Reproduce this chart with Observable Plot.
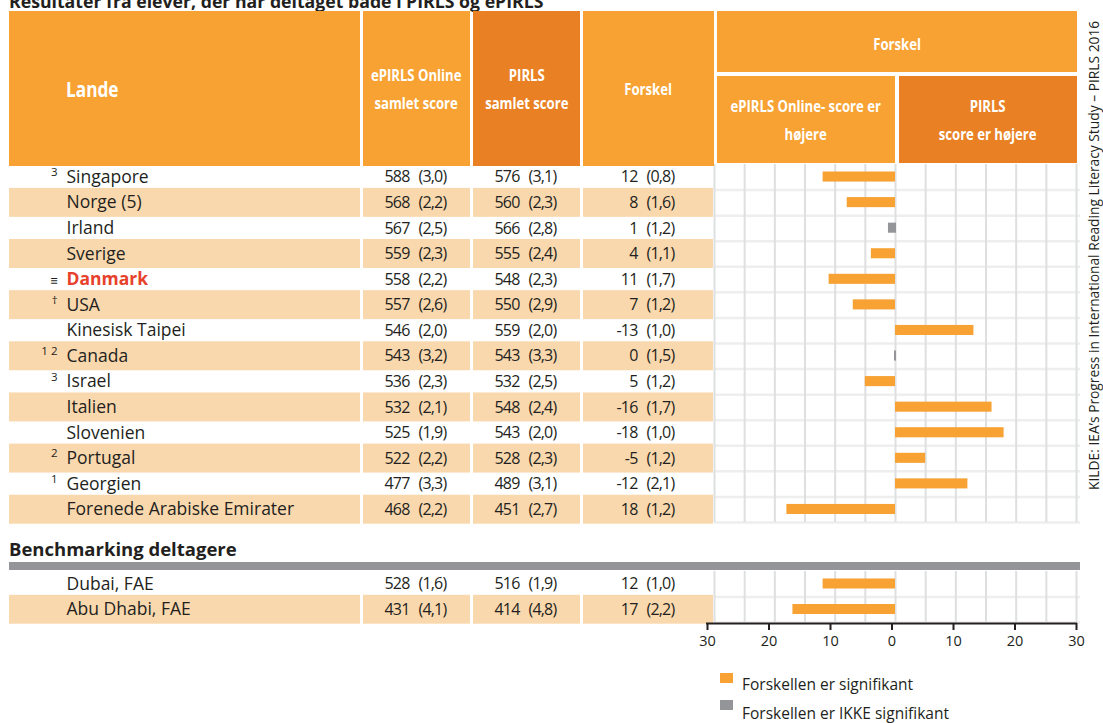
<!DOCTYPE html>
<html lang="da">
<head>
<meta charset="utf-8">
<script src="https://cdn.jsdelivr.net/npm/d3@7"></script>
<script src="https://cdn.jsdelivr.net/npm/@observablehq/plot@0.6"></script>
<style>
html,body{margin:0;padding:0;background:#fff}
body{width:1103px;height:723px;overflow:hidden;position:relative;font-family:"Open Sans",sans-serif;color:#231F20}
.abs{position:absolute;white-space:nowrap}
.hdr{position:absolute;display:flex;align-items:center;justify-content:center;text-align:center;color:#fff;font-family:"Open Sans",sans-serif;font-weight:bold;font-size:16px;line-height:28px;white-space:nowrap}
.sq{display:inline-block;transform:scaleX(0.82)}
.plotbox{position:absolute}
.plotbox svg{overflow:visible;display:block}
.num text{letter-spacing:-0.8px}
.sw{position:absolute;width:13px;height:10px}
</style>
</head>
<body>
<script>
// ---------- data ----------
const countries = ["Singapore","Norge (5)","Irland","Sverige","Danmark","USA","Kinesisk Taipei","Canada","Israel","Italien","Slovenien","Portugal","Georgien","Forenede Arabiske Emirater"];
const footnotes = ["3","","","","≡","†","","1 2","3","","","2","1",""];
const ePirlsScore = [588,568,567,559,558,557,546,543,536,532,525,522,477,468];
const ePirlsSE = [3.0,2.2,2.5,2.3,2.2,2.6,2.0,3.2,2.3,2.1,1.9,2.2,3.3,2.2];
const pirlsScore = [576,560,566,555,548,550,559,543,532,548,543,528,489,451];
const pirlsSE = [3.1,2.3,2.8,2.4,2.3,2.9,2.0,3.3,2.5,2.4,2.0,2.3,3.1,2.7];
const difference = [12,8,1,4,11,7,-13,0,5,-16,-18,-5,-12,18];
const differenceSE = [0.8,1.6,1.2,1.1,1.7,1.2,1.0,1.5,1.2,1.7,1.0,1.2,2.1,1.2];
const significant = [true,true,false,true,true,true,true,false,true,true,true,true,true,true];

const benchCountries = ["Dubai, FAE","Abu Dhabi, FAE"];
const benchFootnotes = ["",""];
const benchEPirlsScore = [528,431];
const benchEPirlsSE = [1.6,4.1];
const benchPirlsScore = [516,414];
const benchPirlsSE = [1.9,4.8];
const benchDifference = [12,17];
const benchDifferenceSE = [1.0,2.2];
const benchSignificant = [true,true];

const highlight = "Danmark";
const gridTicks = [-30,-25,-20,-15,-10,-5,0,5,10,15,20,25,30];
const axisTicks = [-30,-20,-10,0,10,20,30];
const legendLabels = ["Forskellen er signifikant","Forskellen er IKKE signifikant"];

const titleText = "Resultater fra elever, der har deltaget både i PIRLS og ePIRLS";
const benchTitle = "Benchmarking deltagere";
const sourceText = "KILDE:  IEA’s Progress in International Reading Literacy Study – PIRLS 2016";

// ---------- style ----------
const ORANGE = "#F7A233", DARK = "#E98124", TAN = "#FAD8AE", GRAY = "#939598", INK = "#231F20", RED = "#E8412B";
const SANS = "Open Sans, sans-serif";
const fmt = v => v.toFixed(1).replace(".", ",");

function table(names, notes, e, eSE, p, pSE, d, dSE, sig) {
  return names.map((name, i) => ({name, note: notes[i], e: e[i], eSE: eSE[i], p: p[i], pSE: pSE[i],
    d: d[i], dSE: dSE[i], sig: sig[i] ? legendLabels[0] : legendLabels[1]}));
}
const mainRows = table(countries, footnotes, ePirlsScore, ePirlsSE, pirlsScore, pirlsSE, difference, differenceSE, significant);
const benchRows = table(benchCountries, benchFootnotes, benchEPirlsScore, benchEPirlsSE, benchPirlsScore, benchPirlsSE, benchDifference, benchDifferenceSE, benchSignificant);

function place(node, left, top, cls) {
  const div = document.createElement("div");
  div.className = "plotbox" + (cls ? " " + cls : "");
  div.style.left = left + "px";
  div.style.top = top + "px";
  div.appendChild(node);
  document.body.appendChild(div);
}
function html(cls, left, top, w, h, inner, extra) {
  const div = document.createElement("div");
  div.className = cls;
  Object.assign(div.style, {left: left + "px", top: top + "px"});
  if (w != null) div.style.width = w + "px";
  if (h != null) div.style.height = h + "px";
  div.innerHTML = inner;
  if (extra) Object.assign(div.style, extra);
  document.body.appendChild(div);
  return div;
}

function section(data, top, height) {
  const step = height / data.length;
  const odd = data.filter((d, i) => i % 2 === 1);
  const base = {height, marginTop: 0, marginBottom: 0, marginLeft: 0, marginRight: 0,
    y: {domain: data.map(d => d.name), padding: 0, round: false, axis: null},
    style: {background: "transparent", overflow: "visible"}};
  const tan = () => Plot.cell(odd, {y: "name", fill: TAN, insetTop: -1.7, insetBottom: -1.7});
  const common = {y: "name", frameAnchor: "left", fill: INK};

  place(Plot.plot({...base, width: 351, marks: [
    tan(),
    Plot.text(data.filter(d => d.name !== highlight), {...common, text: "name", dx: 57, textAnchor: "start", fontFamily: SANS, fontSize: 17.5}),
    Plot.text(data.filter(d => d.name === highlight), {...common, text: "name", dx: 57, textAnchor: "start", fontFamily: SANS, fontSize: 17.5, fontWeight: "bold", fill: RED}),
    Plot.text(data.filter(d => d.note && d.note !== "≡"), {...common, text: "note", dx: 48, textAnchor: "end", fontFamily: SANS, fontSize: 11.5, dy: -5}),
    Plot.text(data.filter(d => d.note === "≡"), {...common, text: "note", dx: 48, textAnchor: "end", fontFamily: SANS, fontSize: 12.5, dy: 1})
  ]}), 9, top);

  const numCol = (left, width, vKey, seKey, endX, startX) => place(Plot.plot({...base, width, marks: [
    tan(),
    Plot.text(data, {...common, text: d => String(d[vKey]), dx: endX, textAnchor: "end", fontFamily: SANS, fontSize: 16}),
    Plot.text(data, {...common, text: d => `(${fmt(d[seKey])})`, dx: startX, textAnchor: "start", fontFamily: SANS, fontSize: 16})
  ]}), left, top, "num");
  numCol(363, 107, "e", "eSE", 46, 55);
  numCol(473, 107, "p", "pSE", 46, 55);
  numCol(583, 130, "d", "dSE", 54, 63);

  place(Plot.plot({...base, width: 367, marginLeft: 1, marginRight: 4,
    x: {domain: [-30, 30], reverse: true, axis: null},
    color: {domain: legendLabels, range: [ORANGE, GRAY]},
    marks: [
      Plot.ruleY(data, {y: "name", dy: step / 2, stroke: "#EEEEEE", strokeWidth: 2.5, insetRight: -4}),
      Plot.ruleX(gridTicks, {stroke: "#DEDFE0", strokeWidth: 2}),
      Plot.barX(data.filter(d => d.sig === legendLabels[0]), {y: "name", x1: 0, x2: "d", fill: "sig", insetTop: 7.5, insetBottom: 8}),
      Plot.barX(data.filter(d => d.sig === legendLabels[1]), {y: "name", x1: 0, x2: "d", fill: "sig", insetTop: 7.5, insetBottom: 8, insetLeft: -1, insetRight: -1})
    ]}), 713, top);
}

// ---------- title ----------
html("abs", 9, -11, null, null, titleText, {font: `bold 17.7px ${SANS}`});

// ---------- body ----------
section(mainRows, 164, 358);
html("abs", 9, 537, null, null, benchTitle, {font: `bold 18.5px/24px ${SANS}`});
html("abs", 9, 562, 1071, 8, "", {background: GRAY});
section(benchRows, 571, 51);

// ---------- axis ----------
place(Plot.plot({width: 389, height: 40, marginLeft: 10, marginRight: 10, marginTop: 1, marginBottom: 39,
  x: {domain: [-30, 30], reverse: true},
  y: {domain: [0, 1], axis: null},
  style: {background: "transparent", overflow: "visible"},
  marks: [
    Plot.ruleY([0], {stroke: INK, strokeWidth: 2, insetLeft: -1, insetRight: -1}),
    Plot.axisX(axisTicks, {anchor: "bottom", tickFormat: d => Math.abs(d), tickSize: 7, tickPadding: 5,
      fontSize: 14.5, fontFamily: SANS, stroke: INK, fill: INK, strokeWidth: 2})
  ]}), 697, 622);

// ---------- header ----------
const sq = t => `<span class="sq">${t}</span>`;
html("hdr", 9, 11, 294, 155, `<span class="sq" style="transform-origin:0 50%">Lande</span>`, {background: ORANGE, justifyContent: "flex-start", paddingLeft: "57px", fontSize: "21px"});
html("hdr", 363, 11, 107, 155, sq("ePIRLS Online<br>samlet score"), {background: ORANGE});
html("hdr", 473, 11, 107, 155, sq("PIRLS<br>samlet score"), {background: DARK});
html("hdr", 583, 11, 131, 155, sq("Forskel"), {background: ORANGE});
html("hdr", 717, 11, 360, 57, sq("Forskel"), {background: ORANGE, paddingTop: "4px"});
html("hdr", 717, 76, 178, 87, sq("ePIRLS Online- score er<br>højere"), {background: ORANGE});
html("hdr", 899, 76, 178, 87, sq("PIRLS<br>score er højere"), {background: DARK});

// ---------- legend ----------
legendLabels.forEach((label, i) => {
  html("sw", 720, 673 + i * 27, null, null, "", {background: [ORANGE, GRAY][i]});
  html("abs", 742, 675 + i * 29, null, null, label, {font: `15.5px/18px ${SANS}`});
});

// ---------- source ----------
html("abs", 1087, 490, null, null, sourceText, {font: `13.8px/14px ${SANS}`, transformOrigin: "0 0", transform: "rotate(-90deg)"});
</script>
</body>
</html>
